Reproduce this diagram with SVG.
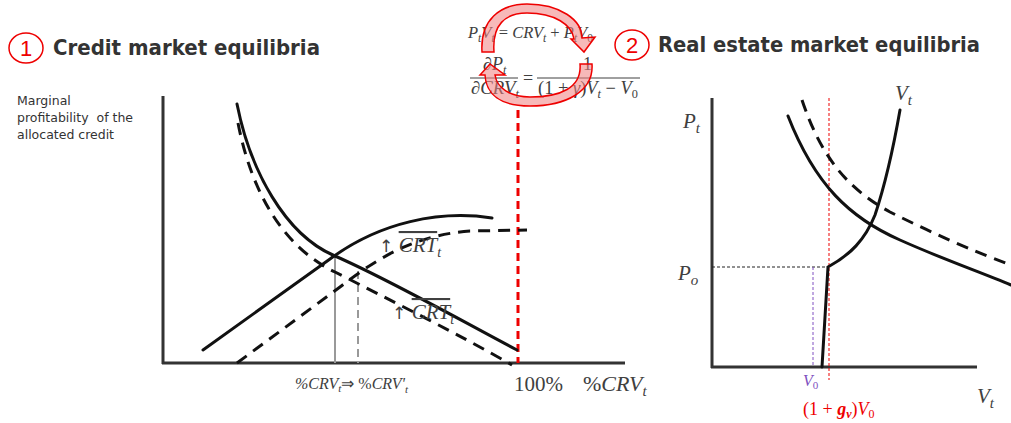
<svg xmlns="http://www.w3.org/2000/svg" width="1011" height="423" viewBox="0 0 1011 423">
<style>
.ax{stroke:#333;stroke-width:3;fill:none}
.cv{stroke:#111;stroke-width:3;fill:none;stroke-linecap:round}
.dcv{stroke:#111;stroke-width:3;fill:none;stroke-dasharray:12 8}
.title{font-family:"DejaVu Sans",sans-serif;font-weight:bold;font-size:21px;fill:#333}
.num{font-family:"Liberation Sans",sans-serif;font-size:22px;fill:#e00}
.m{font-family:"Liberation Serif",serif;font-style:italic;fill:#404040}
.mr{font-family:"Liberation Serif",serif;fill:#404040}
.ar{font-family:"DejaVu Sans",sans-serif;font-style:normal;fill:#404040}
.lbl{font-family:"DejaVu Sans",sans-serif;font-size:12.5px;fill:#333}
.arr{fill:#f08080;fill-opacity:0.55;stroke:#e00;stroke-width:1.5}
</style>
<rect width="1011" height="423" fill="#fff"/>

<g id="title1">
<ellipse cx="26" cy="48" rx="17" ry="15" fill="none" stroke="#e00" stroke-width="1.5"/>
<text class="num" x="26" y="56" text-anchor="middle">1</text>
<text class="title" x="53" y="55" textLength="267" lengthAdjust="spacingAndGlyphs">Credit market equilibria</text>
</g>
<g id="title2">
<ellipse cx="632" cy="45" rx="17" ry="15" fill="none" stroke="#e00" stroke-width="1.5"/>
<text class="num" x="632" y="53" text-anchor="middle">2</text>
<text class="title" x="658" y="52" textLength="322" lengthAdjust="spacingAndGlyphs">Real estate market equilibria</text>
</g>

<g id="ylabel">
<text class="lbl" x="17" y="105">Marginal</text>
<text class="lbl" x="17" y="122" xml:space="preserve">profitability  of the</text>
<text class="lbl" x="17" y="139">allocated credit</text>
</g>

<g id="formula">
<text class="m" font-size="16.5" x="468" y="38">P<tspan font-size="11.5" dy="4">t</tspan><tspan dy="-4">V</tspan><tspan font-size="11.5" dy="4">t</tspan><tspan dy="-4" font-style="normal"> = </tspan>CRV<tspan font-size="11.5" dy="4">t</tspan><tspan font-style="normal" dy="-4"> + </tspan>P<tspan font-size="11.5" dy="4">t</tspan><tspan dy="-4">V</tspan><tspan font-size="11.5" dy="4" font-style="normal">0</tspan></text>
<text class="m" font-size="18" x="483" y="70">∂P<tspan font-size="12" dy="4">t</tspan></text>
<line x1="470" y1="78" x2="518" y2="78" stroke="#404040" stroke-width="1"/>
<text class="m" font-size="18" x="471" y="94" textLength="48" lengthAdjust="spacingAndGlyphs">∂CRV<tspan font-size="12" dy="4">t</tspan></text>
<text class="mr" font-size="18" x="523" y="84">=</text>
<text class="mr" font-size="18" x="583" y="70">1</text>
<line x1="537" y1="78" x2="640" y2="78" stroke="#404040" stroke-width="1"/>
<text class="m" font-size="18" x="538" y="94" textLength="100" lengthAdjust="spacingAndGlyphs"><tspan font-style="normal">(1 + </tspan>γ<tspan font-style="normal">)</tspan>V<tspan font-size="12" dy="4">t</tspan><tspan dy="-4" font-style="normal"> − </tspan>V<tspan font-size="12" dy="4" font-style="normal">0</tspan></text>
</g>

<g id="cycle">
<path class="arr" d="M482,52 C480,20 500,4 527,4 C560,4 582,20 582,38 L595,37 L584,52 L571,39 L574,39 C572,25 555,13 527,13 C505,13 492,25 494,52 Z"/>
<path class="arr" d="M592,64 C594,92 565,106 530,106 C500,106 486,94 485,75 L480,75 L490,64 L505,75 L495,75 C497,88 510,97 530,97 C560,97 582,88 580,64 Z"/>
</g>

<g id="chart1">
<line class="ax" x1="163" y1="96" x2="163" y2="364"/>
<line class="ax" x1="162" y1="363" x2="625" y2="363"/>
<line x1="518" y1="110" x2="518" y2="363" stroke="#e00" stroke-width="3" stroke-dasharray="8 5"/>
<line x1="335" y1="256" x2="335" y2="363" stroke="#999" stroke-width="2"/>
<line x1="358" y1="271" x2="358" y2="363" stroke="#999" stroke-width="2" stroke-dasharray="8 5"/>
<path class="cv" d="M237,104 C250,170 285,235 335,256 C390,280 460,320 517,350"/>
<path class="dcv" d="M238,123 C252,195 285,248 335,272 C390,300 460,335 512,365"/>
<path class="cv" d="M203,350 L330,259 C380,222 440,210 492,218"/>
<path class="dcv" d="M237,363 L340,287 C385,252 420,235 470,231 L527,230"/>
<text class="m" font-size="21" x="379" y="252"><tspan class="ar" font-size="17">↑ </tspan><tspan text-decoration="overline">CRT</tspan><tspan font-size="14" dy="5">t</tspan></text>
<text class="m" font-size="21" x="392" y="319"><tspan class="ar" font-size="17">↑ </tspan><tspan text-decoration="overline">CRT</tspan><tspan font-size="14" dy="5">t</tspan></text>
<text class="m" font-size="16" x="295" y="389">%CRV<tspan font-size="11" dy="3">t</tspan><tspan font-style="normal" dy="-3">⇒ %</tspan>CRV'<tspan font-size="11" dy="4">t</tspan></text>
<text class="mr" font-size="21" x="514" y="391">100%</text>
<text class="m" font-size="22" x="583" y="391"><tspan font-style="normal">%</tspan>CRV<tspan font-size="15" dy="5">t</tspan></text>
</g>

<g id="chart2">
<line class="ax" x1="712" y1="98" x2="712" y2="368"/>
<line class="ax" x1="711" y1="367" x2="977" y2="367"/>
<line x1="712" y1="267" x2="828" y2="267" stroke="#222" stroke-width="1" stroke-dasharray="3 2"/>
<line x1="829" y1="98" x2="829" y2="380" stroke="#e00" stroke-width="1" stroke-dasharray="3 2"/>
<line x1="813" y1="267" x2="813" y2="367" stroke="#8050c0" stroke-width="1" stroke-dasharray="3 2"/>
<path class="cv" d="M822,367 L828,267 C850,255 865,240 875,215 C885,185 893,150 900,110"/>
<path class="cv" d="M788,116 C815,185 850,218 900,240 C940,258 980,272 1011,285"/>
<path class="dcv" d="M802,100 C822,160 850,190 890,212 C930,232 975,252 1011,265"/>
<text class="m" font-size="21" x="683" y="128">P<tspan font-size="15" dy="5">t</tspan></text>
<text class="m" font-size="21" x="678" y="280">P<tspan font-size="15" dy="5">o</tspan></text>
<text class="m" font-size="21" x="895" y="100">V<tspan font-size="15" dy="5">t</tspan></text>
<text class="m" font-size="21" x="977" y="403">V<tspan font-size="15" dy="5">t</tspan></text>
<text class="m" font-size="16" x="803" y="386" style="fill:#8050c0">V<tspan font-size="11" dy="3" font-style="normal">0</tspan></text>
<text class="mr" font-size="18" x="803" y="415" style="fill:#e00">(1 + <tspan font-weight="bold" font-style="italic">g</tspan><tspan font-size="12" dy="3" font-weight="bold" font-style="italic">v</tspan><tspan dy="-3">)</tspan><tspan font-style="italic">V</tspan><tspan font-size="12" dy="3">0</tspan></text>
</g>
</svg>
